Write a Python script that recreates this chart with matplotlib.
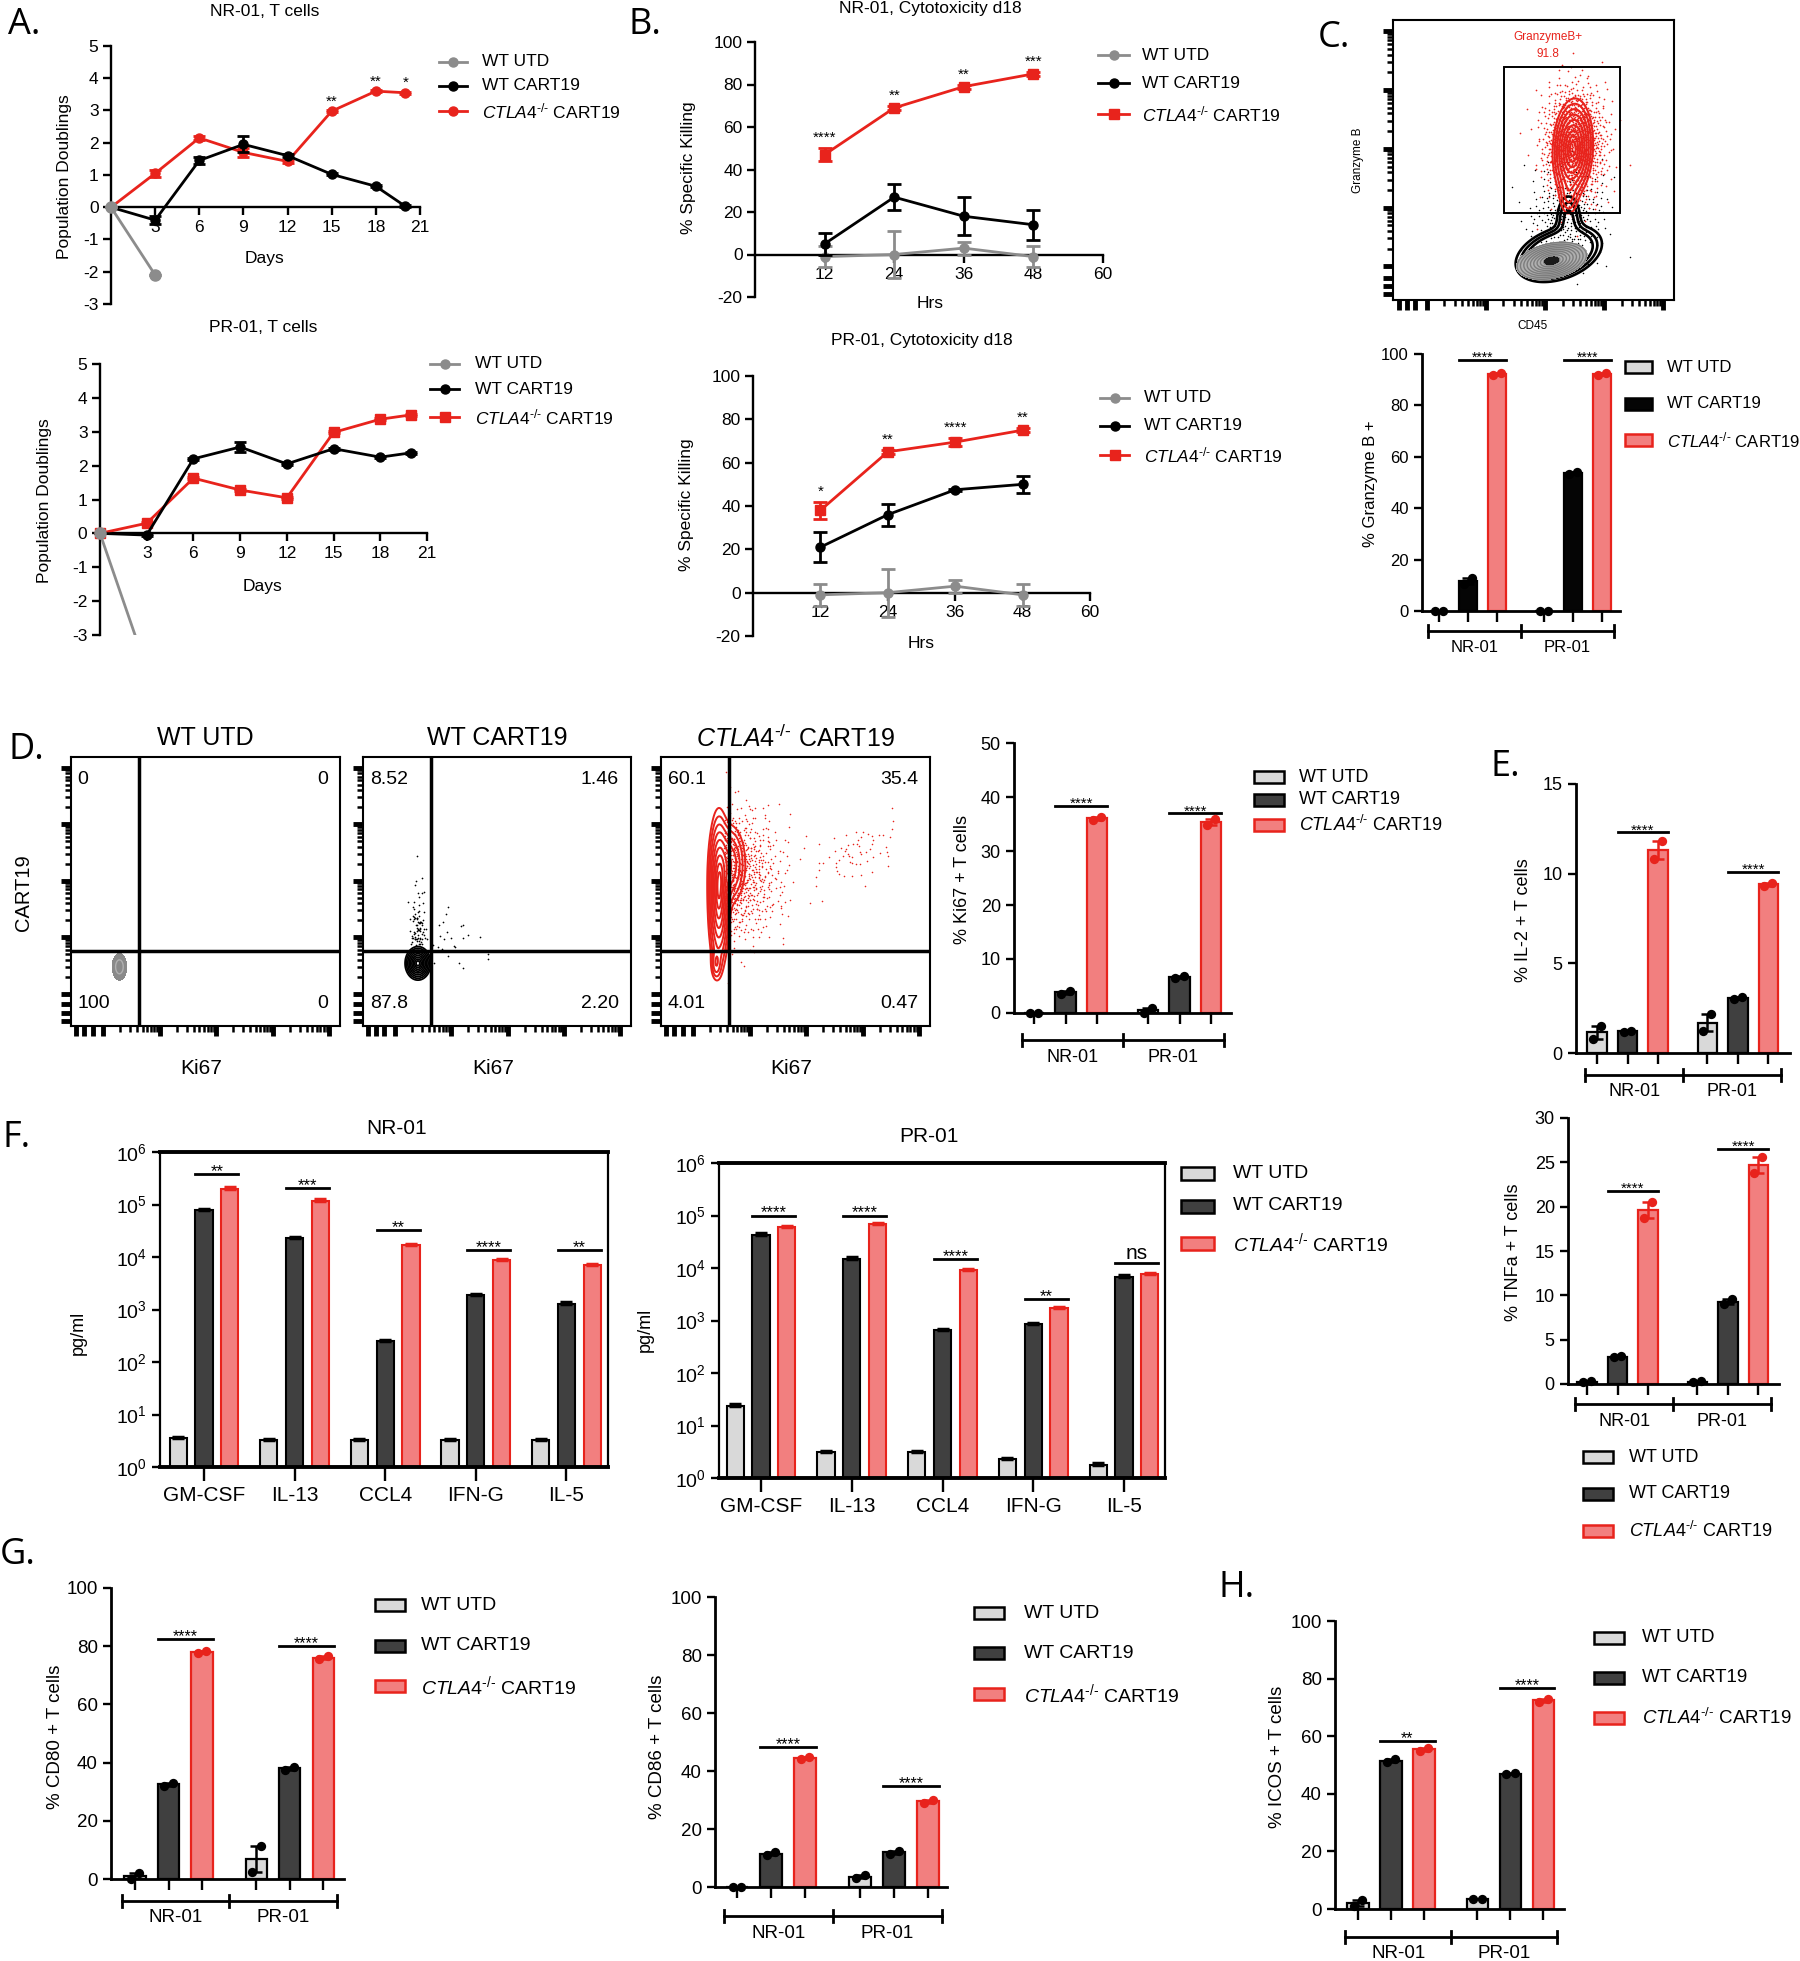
import numpy as np
import matplotlib
matplotlib.use('Agg')
import matplotlib.pyplot as plt
from matplotlib.lines import Line2D
from matplotlib.patches import Rectangle
from matplotlib.ticker import NullLocator, FixedLocator
import matplotlib.transforms as mtransforms
from matplotlib import font_manager as fm

# ---------------- DATA ----------------
# A. population doublings
days = [0, 3, 6, 9, 12, 15, 18, 20]
nr_utd_days = [0, 3]
nr_utd_pd = [0, -2.1]
nr_wt_pd = [0, -0.4, 1.45, 1.95, 1.6, 1.02, 0.65, 0.03]
nr_wt_err = [0, 0.12, 0.12, 0.25, 0.05, 0.03, 0.03, 0.03]
nr_ko_pd = [0, 1.05, 2.15, 1.7, 1.42, 2.98, 3.6, 3.55]
nr_ko_err = [0, 0.12, 0.05, 0.13, 0.05, 0.03, 0.03, 0.03]
nr_pd_stars = ['', '', '', '', '', '**', '**', '*']
pr_utd_days = [0, 3]
pr_utd_pd = [0, -4.0]
pr_wt_pd = [0, -0.05, 2.2, 2.55, 2.05, 2.5, 2.25, 2.38]
pr_wt_err = [0, 0.03, 0.03, 0.15, 0.03, 0.03, 0.03, 0.03]
pr_ko_pd = [0, 0.3, 1.63, 1.28, 1.05, 2.98, 3.37, 3.5]
pr_ko_err = [0, 0.03, 0.03, 0.03, 0.03, 0.03, 0.03, 0.03]

# B. cytotoxicity
hrs = [12, 24, 36, 48]
nr_kill_utd = [-1, 0, 3, -1]
nr_kill_utd_err = [5, 11, 3, 5]
nr_kill_wt = [5, 27, 18, 14]
nr_kill_wt_err = [5, 6, 9, 7]
nr_kill_ko = [47, 69, 79, 85]
nr_kill_ko_err = [3, 1, 1, 1]
nr_kill_stars = ['****', '**', '**', '***']
pr_kill_utd = [-1, 0, 3, -1]
pr_kill_utd_err = [5, 11, 3, 5]
pr_kill_wt = [21, 36, 47.5, 50]
pr_kill_wt_err = [7, 5, 0.5, 4]
pr_kill_ko = [38, 65, 69.5, 75]
pr_kill_ko_err = [4, 1, 2, 1]
pr_kill_stars = ['*', '**', '****', '**']

groups = ['NR-01', 'PR-01']
conditions = ['WT UTD', 'WT CART19', r'$\mathit{CTLA4}^{\text{-/-}}$ CART19']

# C. granzyme B (replicates per condition)
gzmb_nr = [[0, 0], [10.5, 12.8], [91.6, 92.4]]
gzmb_pr = [[0, 0], [53.2, 53.9], [91.6, 92.4]]
gzmb_star_y = [97.5, 97.5]
gzmb_gate_pct = '91.8'

# D. Ki67
ki67_quadrants = {'WT UTD': ['0', '0', '100', '0'],
                  'WT CART19': ['8.52', '1.46', '87.8', '2.20'],
                  'CTLA4': ['60.1', '35.4', '4.01', '0.47']}
ki67_nr = [[0, 0], [3.6, 4.0], [35.8, 36.3]]
ki67_pr = [[0, 1.0], [6.4, 6.8], [34.9, 35.9]]
ki67_star_y = [38.3, 37.0]

# E. IL-2, TNFa
il2_nr = [[0.8, 1.5], [1.15, 1.25], [10.8, 11.8]]
il2_pr = [[1.2, 2.2], [3.0, 3.1], [9.3, 9.5]]
il2_star_y = [12.3, 10.1]
tnf_nr = [[0.2, 0.3], [3.0, 3.2], [18.7, 20.5]]
tnf_pr = [[0.2, 0.3], [9.0, 9.6], [23.8, 25.6]]
tnf_star_y = [21.8, 26.5]

# F. cytokines (pg/ml)
cytokines = ['GM-CSF', 'IL-13', 'CCL4', 'IFN-G', 'IL-5']
nr_cyt_utd = [3.5, 3.2, 3.2, 3.2, 3.2]
nr_cyt_wt = [7.8e4, 2.3e4, 250, 1.9e3, 1.3e3]
nr_cyt_ko = [2.0e5, 1.18e5, 1.7e4, 8.7e3, 6.9e3]
nr_cyt_sig = ['**', '***', '**', '****', '**']
nr_cyt_sig_y = [3.8e5, 2.1e5, 3.2e4, 1.35e4, 1.35e4]
pr_cyt_utd = [24, 3.1, 3.1, 2.3, 1.8]
pr_cyt_wt = [4.3e4, 1.5e4, 660, 860, 6.8e3]
pr_cyt_ko = [6.0e4, 6.9e4, 9.2e3, 1.7e3, 7.6e3]
pr_cyt_sig = ['****', '****', '****', '**', 'ns']
pr_cyt_sig_y = [1.0e5, 1.0e5, 1.5e4, 2.6e3, 1.26e4]

# G/H. CD80, CD86, ICOS
cd80_nr = [[0, 2], [32, 33], [77.5, 78.5]]
cd80_pr = [[2.5, 11.5], [37.5, 38.5], [75.5, 76.5]]
cd80_star_y = [82.5, 80.0]
cd86_nr = [[0, 0], [11, 12], [44, 45]]
cd86_pr = [[3, 4], [11.5, 12.5], [29, 30]]
cd86_star_y = [48.3, 34.8]
icos_nr = [[1, 3], [51, 52], [55, 56]]
icos_pr = [[3.5, 3.5], [46.8, 47.2], [72, 73]]
icos_star_y = [58.3, 76.7]
icos_stars = ['**', '****']

# flow populations: centre x, centre y, spread x, spread y, tilt, weight (axes fractions)
gzmb_utd_pop = [(0.565, 0.14, 0.056, 0.03, 0.3, 1.0)]
gzmb_wt_pop = [(0.59, 0.165, 0.064, 0.042, 0.35, 1.0), (0.625, 0.29, 0.025, 0.05, 0.0, 0.2)]
gzmb_ko_pop = [(0.64, 0.54, 0.03, 0.075, 0.1, 1.0), (0.625, 0.37, 0.018, 0.04, 0.0, 0.15)]
d_utd_pop = [(0.18, 0.22, 0.012, 0.022, 0.0, 1.0)]
d_wt_pop = [(0.205, 0.233, 0.02, 0.026, 0.0, 1.0)]
d_ko_pop = [(0.215, 0.5, 0.018, 0.13, 0.0, 1.0), (0.255, 0.6, 0.03, 0.075, 0.0, 0.4),
            (0.205, 0.23, 0.01, 0.03, 0.0, 0.2)]

# ---------------- STYLE ----------------
W, H, DPI = 1800, 1961, 100
_names = {f.name for f in fm.fontManager.ttflist}
SANS = 'Liberation Sans' if 'Liberation Sans' in _names else 'DejaVu Sans'
LETTER = 'Open Sans' if 'Open Sans' in _names else SANS
plt.rcParams['font.family'] = [SANS, 'DejaVu Sans']
plt.rcParams['mathtext.fontset'] = 'custom'
plt.rcParams['mathtext.rm'] = SANS
plt.rcParams['mathtext.it'] = SANS + ':italic'
plt.rcParams['mathtext.bf'] = SANS + ':bold'
plt.rcParams['axes.unicode_minus'] = False

RED = '#e8231c'
PINK = '#f27f7f'
GRAY = '#8c8c8c'
LIGHT = '#d9d9d9'
DARK = '#404040'

fig = plt.figure(figsize=(W / DPI, H / DPI), dpi=DPI)


def px_axes(x0, y0, x1, y1):
    return fig.add_axes([x0 / W, 1 - y1 / H, (x1 - x0) / W, (y1 - y0) / H])


def ftext(x, y, s, **kw):
    kw.setdefault('ha', 'center')
    kw.setdefault('va', 'center')
    return fig.text(x / W, 1 - y / H, s, **kw)


def fline(xs, ys, **kw):
    fig.add_artist(Line2D([x / W for x in xs], [1 - y / H for y in ys],
                          transform=fig.transFigure, **kw))


def line_legend(x0, x1, xt, ys, colors, markers, fs=12.5):
    for y, lab, c, m in zip(ys, conditions, colors, markers):
        fline([x0, x1], [y, y], color=c, lw=2)
        fline([(x0 + x1) / 2], [y], color=c, marker=m, ms=6.5, lw=0)
        ftext(xt, y, lab, fontsize=fs, ha='left')


def line_axes(box, xlim, ylim, xticks, yticks, fs=12.5):
    ax = px_axes(*box)
    ax.set_xlim(xlim)
    ax.set_ylim(ylim)
    for s in ('top', 'right'):
        ax.spines[s].set_visible(False)
    ax.spines['bottom'].set_position(('data', 0))
    for s in ('left', 'bottom'):
        ax.spines[s].set_linewidth(1.7)
    ax.set_xticks(xticks)
    ax.set_yticks(yticks)
    ax.tick_params(direction='out', length=6, width=1.7, labelsize=fs, pad=3)
    ax.patch.set_visible(False)
    return ax


def series(ax, x, y, e, color, marker, z=3, ms=6.5, cap=4):
    ax.errorbar(x, y, yerr=e, color=color, marker=marker, ms=ms, lw=2,
                elinewidth=2, capsize=cap, capthick=2, clip_on=False, zorder=z)


def stars_above(ax, x, y, e, labels, pad, fs=11):
    for xi, yi, ei, st in zip(x, y, e, labels):
        if st:
            ax.text(xi, yi + ei + pad, st, ha='center', va='bottom', fontsize=fs)


# ---------------- A ----------------
axA1 = line_axes((111, 46, 420, 304), (0, 21), (-3, 5), range(3, 22, 3), range(-3, 6))
series(axA1, days, nr_ko_pd, nr_ko_err, RED, 'o', z=3)
series(axA1, days, nr_wt_pd, nr_wt_err, 'black', 'o', z=4)
series(axA1, nr_utd_days, nr_utd_pd, [0, 0], GRAY, 'o', z=5, ms=8)
stars_above(axA1, days, nr_ko_pd, nr_ko_err, nr_pd_stars, 0.05)
ftext(265, 11, 'NR-01, T cells', fontsize=12.5)
ftext(265, 259, 'Days', fontsize=12.5)
ftext(65, 177, 'Population Doublings', fontsize=12.5, rotation=90)
line_legend(439, 467, 482, [62, 86, 111], [GRAY, 'black', RED], ['o', 'o', 'o'])

axA2 = line_axes((100, 364, 427, 635), (0, 21), (-3, 5), range(3, 22, 3), range(-3, 6))
series(axA2, days, pr_ko_pd, pr_ko_err, RED, 's', z=3)
series(axA2, days, pr_wt_pd, pr_wt_err, 'black', 'o', z=4)
ln, = axA2.plot(pr_utd_days, pr_utd_pd, color=GRAY, marker='o', ms=8, lw=2, zorder=5)
ln.set_clip_path(None)
ln.set_clip_box(mtransforms.TransformedBbox(mtransforms.Bbox([[-1, -3], [22, 6]]), axA2.transData))
ftext(263, 327, 'PR-01, T cells', fontsize=12.5)
ftext(263, 586, 'Days', fontsize=12.5)
ftext(45, 501, 'Population Doublings', fontsize=12.5, rotation=90)
line_legend(430, 459, 475, [364, 389, 417], [GRAY, 'black', RED], ['o', 'o', 's'])

# ---------------- B ----------------
axB1 = line_axes((755, 42, 1103, 297), (0, 60), (-20, 100), range(12, 61, 12), range(-20, 101, 20))
series(axB1, hrs, nr_kill_utd, nr_kill_utd_err, GRAY, 'o', z=3, cap=5)
series(axB1, hrs, nr_kill_wt, nr_kill_wt_err, 'black', 'o', z=4, cap=5)
series(axB1, hrs, nr_kill_ko, nr_kill_ko_err, RED, 's', z=5, cap=5)
stars_above(axB1, hrs, nr_kill_ko, nr_kill_ko_err, nr_kill_stars, 1.5)
ftext(930, 8, 'NR-01, Cytotoxicity d18', fontsize=12.5)
ftext(930, 304, 'Hrs', fontsize=12.5)
ftext(689, 168, '% Specific Killing', fontsize=12.5, rotation=90)
line_legend(1098, 1129, 1142, [55, 83, 114], [GRAY, 'black', RED], ['o', 'o', 's'])

axB2 = line_axes((753, 376, 1090, 636), (0, 60), (-20, 100), range(12, 61, 12), range(-20, 101, 20))
series(axB2, hrs, pr_kill_utd, pr_kill_utd_err, GRAY, 'o', z=3, cap=5)
series(axB2, hrs, pr_kill_wt, pr_kill_wt_err, 'black', 'o', z=4, cap=5)
series(axB2, hrs, pr_kill_ko, pr_kill_ko_err, RED, 's', z=5, cap=5)
stars_above(axB2, hrs, pr_kill_ko, pr_kill_ko_err, pr_kill_stars, 1.5)
ftext(922, 340, 'PR-01, Cytotoxicity d18', fontsize=12.5)
ftext(921, 644, 'Hrs', fontsize=12.5)
ftext(687, 505, '% Specific Killing', fontsize=12.5, rotation=90)
line_legend(1100, 1129, 1144, [398, 426, 455], [GRAY, 'black', RED], ['o', 'o', 's'])

# ---------------- flow helpers ----------------
GX, GY = np.meshgrid(np.linspace(0, 1, 300), np.linspace(0, 1, 300))
LEVELS = np.exp(-np.linspace(2.4, 0.35, 9) ** 2 / 2)


def density(pops):
    Z = np.zeros_like(GX)
    for cx, cy, sx, sy, rho, w in pops:
        dx = (GX - cx) / sx
        dy = (GY - cy) / sy
        Z += w * np.exp(-(dx * dx - 2 * rho * dx * dy + dy * dy) / (2 * (1 - rho * rho)))
    return Z / Z.max()


def halton(n, base, skip=20):
    out = np.empty(n)
    for j, i in enumerate(range(skip, n + skip)):
        f, r, k = 1.0, 0.0, i
        while k > 0:
            f /= base
            r += f * (k % base)
            k //= base
        out[j] = r
    return out


def qnormal(n, b1, b2):
    u1 = np.clip(halton(n, b1), 1e-6, 1)
    u2 = halton(n, b2)
    rr = np.sqrt(-2 * np.log(u1))
    return rr * np.cos(2 * np.pi * u2), rr * np.sin(2 * np.pi * u2)


def flow_axes(box):
    ax = px_axes(*box)
    ax.set_xlim(0, 1)
    ax.set_ylim(0, 1)
    starts = [0.12, 0.33, 0.54, 0.75]
    major = [0.02, 0.05, 0.08] + starts + [0.96]
    minor = [d + 0.21 * np.log10(k) for d in starts for k in range(2, 10)]
    for axis in (ax.xaxis, ax.yaxis):
        axis.set_major_locator(FixedLocator(major))
        axis.set_minor_locator(FixedLocator(minor))
    ax.tick_params(which='major', direction='out', length=7, width=3.5,
                   labelbottom=False, labelleft=False)
    ax.tick_params(which='minor', direction='out', length=4, width=1.8)
    for s in ax.spines.values():
        s.set_linewidth(1.5)
    return ax


# ---------------- C flow ----------------
axCf = flow_axes((1393, 20, 1674, 300))
Zu = density(gzmb_utd_pop)
nx, ny = qnormal(300, 5, 7)
axCf.scatter(0.62 + 0.07 * nx, 0.3 + 0.09 * ny, s=1.2, color='black', lw=0, zorder=2)
nx, ny = qnormal(1100, 2, 3)
axCf.scatter(0.645 + 0.055 * nx, 0.56 + 0.1 * ny, s=1.5, color=RED, lw=0, zorder=3)
axCf.contour(GX, GY, density(gzmb_wt_pop), levels=LEVELS[:3], colors='black', linewidths=1.9, zorder=4)
axCf.contourf(GX, GY, Zu, levels=[0.08, 1.01], colors=['#b0b0b0'], zorder=5)
axCf.contour(GX, GY, Zu, levels=np.exp(-np.linspace(2.2, 0.3, 10) ** 2 / 2),
             colors='#7d7d7d', linewidths=1.0, zorder=5)
axCf.contourf(GX, GY, Zu, levels=[0.9, 1.01], colors=['#1a1a1a'], zorder=5)
axCf.contour(GX, GY, density(gzmb_ko_pop), levels=LEVELS, colors=RED, linewidths=1.5, zorder=6)
axCf.add_patch(Rectangle((0.395, 0.31), 0.413, 0.522, fill=False, ec='black', lw=1.4, zorder=7))
axCf.text(0.55, 0.94, 'GranzymeB+', color=RED, fontsize=8.5, ha='center', va='center')
axCf.text(0.55, 0.88, gzmb_gate_pct, color=RED, fontsize=8.5, ha='center', va='center')
ftext(1358, 160, 'Granzyme B', fontsize=8.5, rotation=90)
ftext(1532, 326, 'CD45', fontsize=8.5)

# ---------------- bar helpers ----------------
POS = np.array([0, 1, 2, 3.62, 4.62, 5.62])


def bar_panel(box, ymax, ystep, first_bar, spacing, reps_nr, reps_pr, star_y, star_txt,
              ylabel, ylabel_xy, bracket_off, fs=13, wt_color=DARK, bw=0.64):
    x0, y0, x1, y1 = box
    ax = px_axes(*box)
    ax.set_ylim(0, ymax)
    ax.set_xlim((x0 - first_bar) / spacing, (x1 - first_bar) / spacing)
    reps = list(reps_nr) + list(reps_pr)
    means = [float(np.mean(r)) for r in reps]
    errs = [(max(r) - min(r)) / 2 for r in reps]
    fills = [LIGHT, wt_color, PINK] * 2
    edges = ['black', 'black', RED] * 2
    ax.bar(POS, means, bw, color=fills, edgecolor=edges, linewidth=1.6, zorder=2)
    for p, m, e, r, ec in zip(POS, means, errs, reps, edges):
        if e > 0:
            ax.errorbar([p], [m], yerr=[e], fmt='none', ecolor=ec, elinewidth=1.8,
                        capsize=4, capthick=1.8, zorder=3)
        ax.scatter([p - 0.13, p + 0.13], r, s=45, color=ec, lw=0, zorder=4, clip_on=False)
    for s in ('top', 'right'):
        ax.spines[s].set_visible(False)
    for s in ('left', 'bottom'):
        ax.spines[s].set_linewidth(2)
    ax.set_yticks(np.arange(0, ymax + 0.01, ystep))
    ax.set_xticks(POS)
    ax.set_xticklabels([])
    ax.tick_params(axis='y', direction='out', length=6, width=1.7, labelsize=fs)
    ax.tick_params(axis='x', direction='out', length=8, width=1.7)
    hpx = y1 - y0
    tr = mtransforms.blended_transform_factory(ax.transData, ax.transAxes)
    yb = -bracket_off / hpx
    xl, xm, xr = -0.38, 2.82, 6.02
    ax.plot([xl, xr], [yb, yb], color='black', lw=2, transform=tr, clip_on=False)
    for xx in (xl, xm, xr):
        ax.plot([xx, xx], [yb - 6 / hpx, yb + 6 / hpx], color='black', lw=2,
                transform=tr, clip_on=False)
    for xx, g in zip(((xl + xm) / 2, (xm + xr) / 2), groups):
        ax.text(xx, yb - 17 / hpx, g, transform=tr, ha='center', va='center', fontsize=fs)
    for (a, b), sy, st in zip(((1, 2), (4, 5)), star_y, star_txt):
        ax.plot([POS[a] - bw / 2, POS[b] + bw / 2], [sy, sy], color='black', lw=2, clip_on=False)
        ax.annotate(st, (float(POS[a] + POS[b]) / 2, sy), xytext=(0, -1.5),
                    textcoords='offset points', ha='center', va='baseline', fontsize=fs - 2)
    ftext(ylabel_xy[0], ylabel_xy[1], ylabel, rotation=90, fontsize=fs)
    return ax


def bar_legend(xb, xt, ys, fs, wt_color=DARK, bwid=30, bh=12):
    fills = [LIGHT, wt_color, PINK]
    edges = ['black', 'black', RED]
    for y, lab, fc, ec in zip(ys, conditions, fills, edges):
        fig.add_artist(Rectangle((xb / W, 1 - (y + bh / 2) / H), bwid / W, bh / H,
                                 transform=fig.transFigure, facecolor=fc, edgecolor=ec, lw=1.8))
        ftext(xt, y, lab, fontsize=fs, ha='left')


# ---------------- C bars ----------------
bar_panel((1422, 353.5, 1620, 611.5), 100, 20, 1439, 29, gzmb_nr, gzmb_pr, gzmb_star_y,
          ['****', '****'], '% Granzyme B +', (1370, 484), 19.5, fs=12, wt_color='#050505')
bar_legend(1625, 1667, [367, 404, 440], 12, wt_color='#050505', bwid=27)

# ---------------- D flow ----------------
d_boxes = [(71, 757, 340, 1026), (363, 757, 631, 1026), (661, 757, 930, 1026)]
d_titles = ['WT UTD', 'WT CART19', conditions[2]]
d_keys = ['WT UTD', 'WT CART19', 'CTLA4']
for i, (box, title, key) in enumerate(zip(d_boxes, d_titles, d_keys)):
    ax = flow_axes(box)
    if i == 0:
        ax.contourf(GX, GY, density(d_utd_pop), levels=[0.08, 1.01], colors=['#8a8a8a'])
        ax.contour(GX, GY, density(d_utd_pop), levels=[0.5], colors=['#b0b0b0'], linewidths=1)
    elif i == 1:
        nx, ny = qnormal(80, 3, 5)
        ax.scatter(0.205 + 0.015 * nx, 0.3 + 0.1 * np.abs(ny), s=1.5, color='black', lw=0)
        nx, ny = qnormal(25, 7, 11)
        ax.scatter(0.26 + 0.1 * np.abs(nx), 0.32 + 0.06 * ny, s=1.5, color='black', lw=0)
        ax.contour(GX, GY, density(d_wt_pop), levels=LEVELS, colors='black', linewidths=1.3)
    else:
        nx, ny = qnormal(650, 2, 3)
        ax.scatter(0.235 + 0.1 * np.abs(nx), 0.56 + 0.12 * ny, s=1.3, color=RED, lw=0)
        nx, ny = qnormal(60, 5, 7)
        ax.scatter(0.72 + 0.08 * nx, 0.64 + 0.05 * ny + 0.4 * 0.08 * nx, s=1.3, color=RED, lw=0)
        ax.contour(GX, GY, density(d_ko_pop), levels=LEVELS, colors=RED, linewidths=1.4)
    ax.axvline(0.253, color='black', lw=2.5)
    ax.axhline(0.279, color='black', lw=2.5)
    q = ki67_quadrants[key]
    ax.text(0.025, 0.918, q[0], fontsize=14, ha='left', va='center')
    ax.text(0.955, 0.918, q[1], fontsize=14, ha='right', va='center')
    ax.text(0.025, 0.085, q[2], fontsize=14, ha='left', va='center')
    ax.text(0.955, 0.085, q[3], fontsize=14, ha='right', va='center')
    cx = (box[0] + box[2]) / 2
    ftext(cx, 738, title, fontsize=18)
    ftext(cx - 4, 1068, 'Ki67', fontsize=15)
ftext(24, 893, 'CART19', fontsize=14.5, rotation=90)

# ---------------- D bars (Ki67) ----------------
bar_panel((1014, 743, 1231, 1013), 50, 10, 1034, 31.5, ki67_nr, ki67_pr, ki67_star_y,
          ['****', '****'], '% Ki67 + T cells', (962, 880), 27, fs=13)
bar_legend(1254, 1299, [777, 800, 825], 13)

# ---------------- E ----------------
bar_panel((1576, 784, 1790, 1053), 15, 5, 1597, 30.5, il2_nr, il2_pr, il2_star_y,
          ['****', '****'], '% IL-2 + T cells', (1524, 920), 22, fs=13)
bar_panel((1568, 1118, 1779, 1384), 30, 5, 1587, 30.5, tnf_nr, tnf_pr, tnf_star_y,
          ['****', '****'], '% TNFa + T cells', (1513, 1252), 20, fs=13)
bar_legend(1583, 1629, [1457, 1494, 1531], 13)

# ---------------- F ----------------


def cyto_panel(box, utd, wt, ko, sig, sig_y, first_cat, spacing, fs=15):
    x0, y0, x1, y1 = box
    ax = px_axes(*box)
    ax.set_yscale('log')
    ax.set_ylim(1, 1e6)
    ax.set_xlim((x0 - first_cat) / spacing, (x1 - first_cat) / spacing)
    x = np.arange(len(cytokines))
    off, bw = 0.285, 0.19
    vals = [utd, wt, ko]
    fills = [LIGHT, DARK, PINK]
    edges = ['black', 'black', RED]
    for k, (v, fc, ec) in enumerate(zip(vals, fills, edges)):
        v = np.asarray(v, dtype=float)
        xs = x + (k - 1) * off
        ax.bar(xs, v - 1, bw, bottom=1, color=fc, edgecolor=ec, linewidth=1.5, zorder=2)
        ax.errorbar(xs, v, yerr=[np.zeros_like(v), v * 0.06], fmt='none', ecolor=ec,
                    elinewidth=1.5, capsize=4, capthick=2.5, zorder=3)
    for xi, st, sy in zip(x, sig, sig_y):
        ax.plot([xi - bw / 2, xi + off + bw / 2], [sy, sy], color='black', lw=2)
        ax.annotate(st, (xi + off / 2, sy), xytext=(0, 0 if st == 'ns' else -1.5),
                    textcoords='offset points', ha='center',
                    va='bottom' if st == 'ns' else 'baseline', fontsize=12 if st != 'ns' else 15)
    ax.set_xticks(x)
    ax.set_xticklabels(cytokines, fontsize=fs)
    ax.set_yticks([10.0 ** k for k in range(7)])
    ax.yaxis.set_minor_locator(NullLocator())
    ax.tick_params(axis='x', direction='out', length=10, width=1.7, pad=4)
    ax.tick_params(axis='y', direction='out', length=6, width=1.7, labelsize=14)
    ax.spines['top'].set_linewidth(2.8)
    ax.spines['bottom'].set_linewidth(2.8)
    ax.spines['left'].set_linewidth(1.6)
    ax.spines['right'].set_linewidth(1.6)
    return ax


cyto_panel((160, 1152, 608, 1467), nr_cyt_utd, nr_cyt_wt, nr_cyt_ko, nr_cyt_sig, nr_cyt_sig_y, 204, 90.6)
ftext(397, 1128, 'NR-01', fontsize=15)
ftext(78, 1333, 'pg/ml', fontsize=13, rotation=90)
cyto_panel((719, 1163, 1165, 1478), pr_cyt_utd, pr_cyt_wt, pr_cyt_ko, pr_cyt_sig, pr_cyt_sig_y, 761, 90.75)
ftext(929, 1137, 'PR-01', fontsize=15)
ftext(645, 1330, 'pg/ml', fontsize=13, rotation=90)
bar_legend(1181, 1233, [1173, 1206, 1243], 14, bwid=33, bh=13)

# ---------------- G / H ----------------
bar_panel((111, 1588, 344, 1879), 100, 20, 135, 33.5, cd80_nr, cd80_pr, cd80_star_y,
          ['****', '****'], '% CD80 + T cells', (55, 1737), 22, fs=13.5)
bar_legend(375, 421, [1605, 1646, 1686], 14)
bar_panel((715, 1597, 947, 1887), 100, 20, 737, 34, cd86_nr, cd86_pr, cd86_star_y,
          ['****', '****'], '% CD86 + T cells', (658, 1747), 29, fs=13.5)
bar_legend(974, 1024, [1613, 1653, 1694], 14)
bar_panel((1335, 1621, 1564, 1909), 100, 20, 1358, 33, icos_nr, icos_pr, icos_star_y,
          icos_stars, '% ICOS + T cells', (1278, 1757), 28, fs=13.5)
bar_legend(1594, 1642, [1638, 1678, 1718], 13.5)

# ---------------- panel letters ----------------
for lab, x, y in [('A.', 8, 25), ('B.', 628, 25), ('C.', 1318, 38), ('D.', 9, 750),
                  ('E.', 1491, 767), ('F.', 3, 1138), ('G.', 0, 1555), ('H.', 1219, 1588)]:
    ftext(x, y, lab, fontsize=26, ha='left', family=LETTER)

fig.savefig('out.png', dpi=DPI)
